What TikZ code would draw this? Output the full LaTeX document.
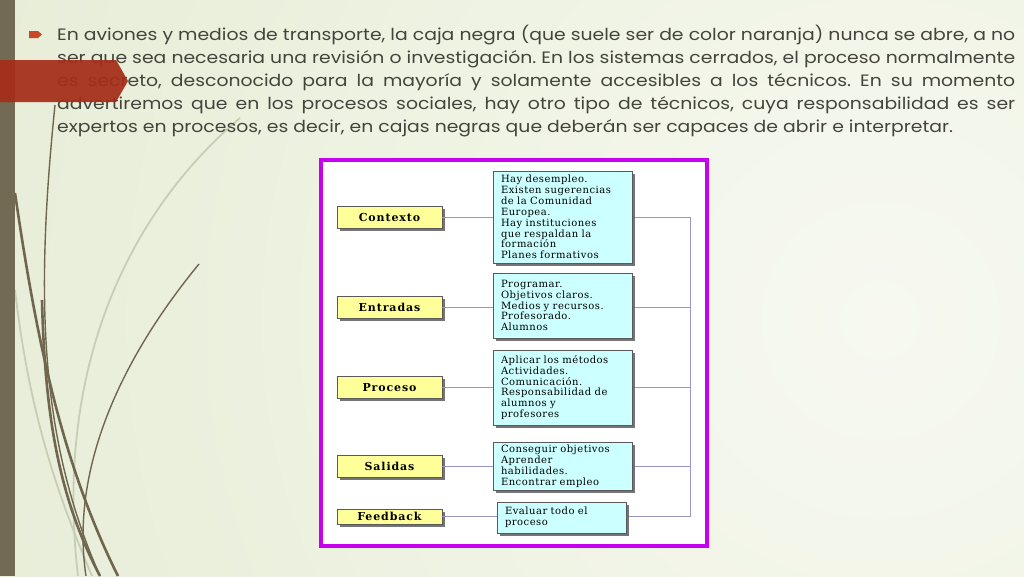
\documentclass[tikz,border=0pt]{standalone}
\usepackage{fontspec}
\newfontfamily\diapo[FakeStretch=1.14]{Poppins}
\newfontfamily\cajas[LetterSpace=5]{DejaVu Serif}
\newfontfamily\rotulo[LetterSpace=8]{DejaVu Serif}
\usetikzlibrary{shadows}
\definecolor{fondo}{RGB}{224,232,204}
\definecolor{fondoclaro}{RGB}{247,249,240}
\definecolor{barra}{RGB}{114,106,82}
\definecolor{banda}{RGB}{165,45,25}
\definecolor{vineta}{RGB}{200,72,40}
\definecolor{tallo}{RGB}{112,102,80}
\definecolor{talloclaro}{RGB}{198,206,182}
\definecolor{gristexto}{RGB}{68,68,60}
\definecolor{marco}{RGB}{200,0,240}
\definecolor{amarillo}{RGB}{255,255,153}
\definecolor{celeste}{RGB}{204,255,255}
\definecolor{lila}{RGB}{150,150,200}

\tikzset{
  sombra/.style={drop shadow={shadow xshift=2.5pt,shadow yshift=-2.5pt,fill=black!60,opacity=.9}},
  etapa/.style={draw=black!65,line width=.6pt,fill=amarillo,minimum width=105pt,
                minimum height=22pt,inner sep=0pt,sombra,
                font=\rotulo\bfseries\fontsize{11}{12}\selectfont},
  detalle/.style={draw=black!65,line width=.6pt,fill=celeste,text width=123pt,
                  inner xsep=8pt,inner ysep=2pt,align=left,sombra,
                  font=\cajas\fontsize{10}{10.9}\selectfont},
  enlace/.style={draw=lila,line width=.9pt},
  tallo grueso/.style={draw=tallo,line width=2.6pt},
  tallo fino/.style={draw=tallo,line width=1.4pt},
  tallo claro/.style={draw=talloclaro,line width=1.8pt}
}

\begin{document}
\begin{tikzpicture}[x=1pt,y=-1pt]
\useasboundingbox (0,0) rectangle (1024,576);
% fondo de la diapositiva
\begin{scope}
  \clip (0,0) rectangle (1024,576);
  \fill[fondo] (0,0) rectangle (1024,576);
  \shade[inner color=fondoclaro,outer color=fondo] (880,320) circle (1350);
  \draw[tallo claro] (240,118) .. controls (120,220) and (55,380) .. (78,576);
  \draw[tallo claro] (15,290) .. controls (30,420) and (60,500) .. (92,576);
  \draw[tallo fino] (199,264) .. controls (120,360) and (70,470) .. (86,576);
  \draw[tallo grueso] (15,193) .. controls (35,330) and (60,460) .. (118,576);
  \draw[tallo fino] (55,105) .. controls (35,300) and (40,440) .. (100,576);
  \draw[tallo grueso] (42,300) .. controls (45,420) and (60,500) .. (100,576);
  \fill[barra] (0,0) rectangle (15,576);
\end{scope}

% texto con viñeta
\fill[vineta] (29,31) -- (38,31) -- (42,34.5) -- (38,38) -- (29,38) -- cycle;
\node[anchor=base west,inner sep=0pt,text width=958pt,align=justify,text=gristexto,
      font=\diapo\fontsize{16.5}{23}\selectfont] (parrafo) at (57,40)
  {\frenchspacing\tolerance=10000 En aviones y medios de transporte, la caja negra (que suele ser de color naranja) nunca se abre, a no\linebreak
   ser que sea necesaria una revisión o investigación. En los sistemas cerrados, el proceso normalmente\linebreak
   es secreto, desconocido para la mayoría y solamente accesibles a los técnicos. En su momento\linebreak
   advertiremos que en los procesos sociales, hay otro tipo de técnicos, cuya responsabilidad es ser\linebreak
   expertos en procesos, es decir, en cajas negras que deberán ser capaces de abrir e interpretar.};
\fill[banda,opacity=.93] (0,60) -- (116,60) -- (128,81) -- (116,102) -- (0,102) -- cycle;

% esquema
\draw[marco,line width=3.5pt,fill=white] (321,160) rectangle (707,546);
\coordinate (bus) at (690,0);

\node[etapa] (ctx) at (389.5,217) {Contexto};
\node[etapa] (ent) at (389.5,307) {Entradas};
\node[etapa] (pro) at (389.5,387.5) {Proceso};
\node[etapa] (sal) at (389.5,466) {Salidas};
\node[etapa,minimum height=15pt] (fbk) at (389.5,516.5) {Feedback};

\draw[enlace] (ctx.east) -- (ctx.east -| bus);
\draw[enlace] (ent.east) -- (ent.east -| bus);
\draw[enlace] (pro.east) -- (pro.east -| bus);
\draw[enlace] (sal.east) -- (sal.east -| bus);
\draw[enlace] (fbk.east) -- (fbk.east -| bus);
\draw[enlace] (ctx.east -| bus) -- (fbk.east -| bus);

\node[detalle,minimum height=92pt] (dctx) at (562.5,217)
  {Hay desempleo.\\Existen sugerencias\\de la Comunidad\\Europea.\\Hay instituciones\\que respaldan la\\formación\\Planes formativos};
\node[detalle,minimum height=65pt] (dent) at (562.5,305.5)
  {Programar.\\Objetivos claros.\\Medios y recursos.\\Profesorado.\\Alumnos};
\node[detalle,minimum height=75pt] (dpro) at (562.5,387.5)
  {Aplicar los métodos\\Actividades.\\Comunicación.\\Responsabilidad de\\alumnos y\\profesores};
\node[detalle,minimum height=48pt] (dsal) at (562.5,466)
  {Conseguir objetivos\\Aprender\\habilidades.\\Encontrar empleo};
\node[detalle,text width=113pt,minimum height=31pt] (dfbk) at (561.5,517.5)
  {Evaluar todo el\\proceso};
\end{tikzpicture}
\end{document}
